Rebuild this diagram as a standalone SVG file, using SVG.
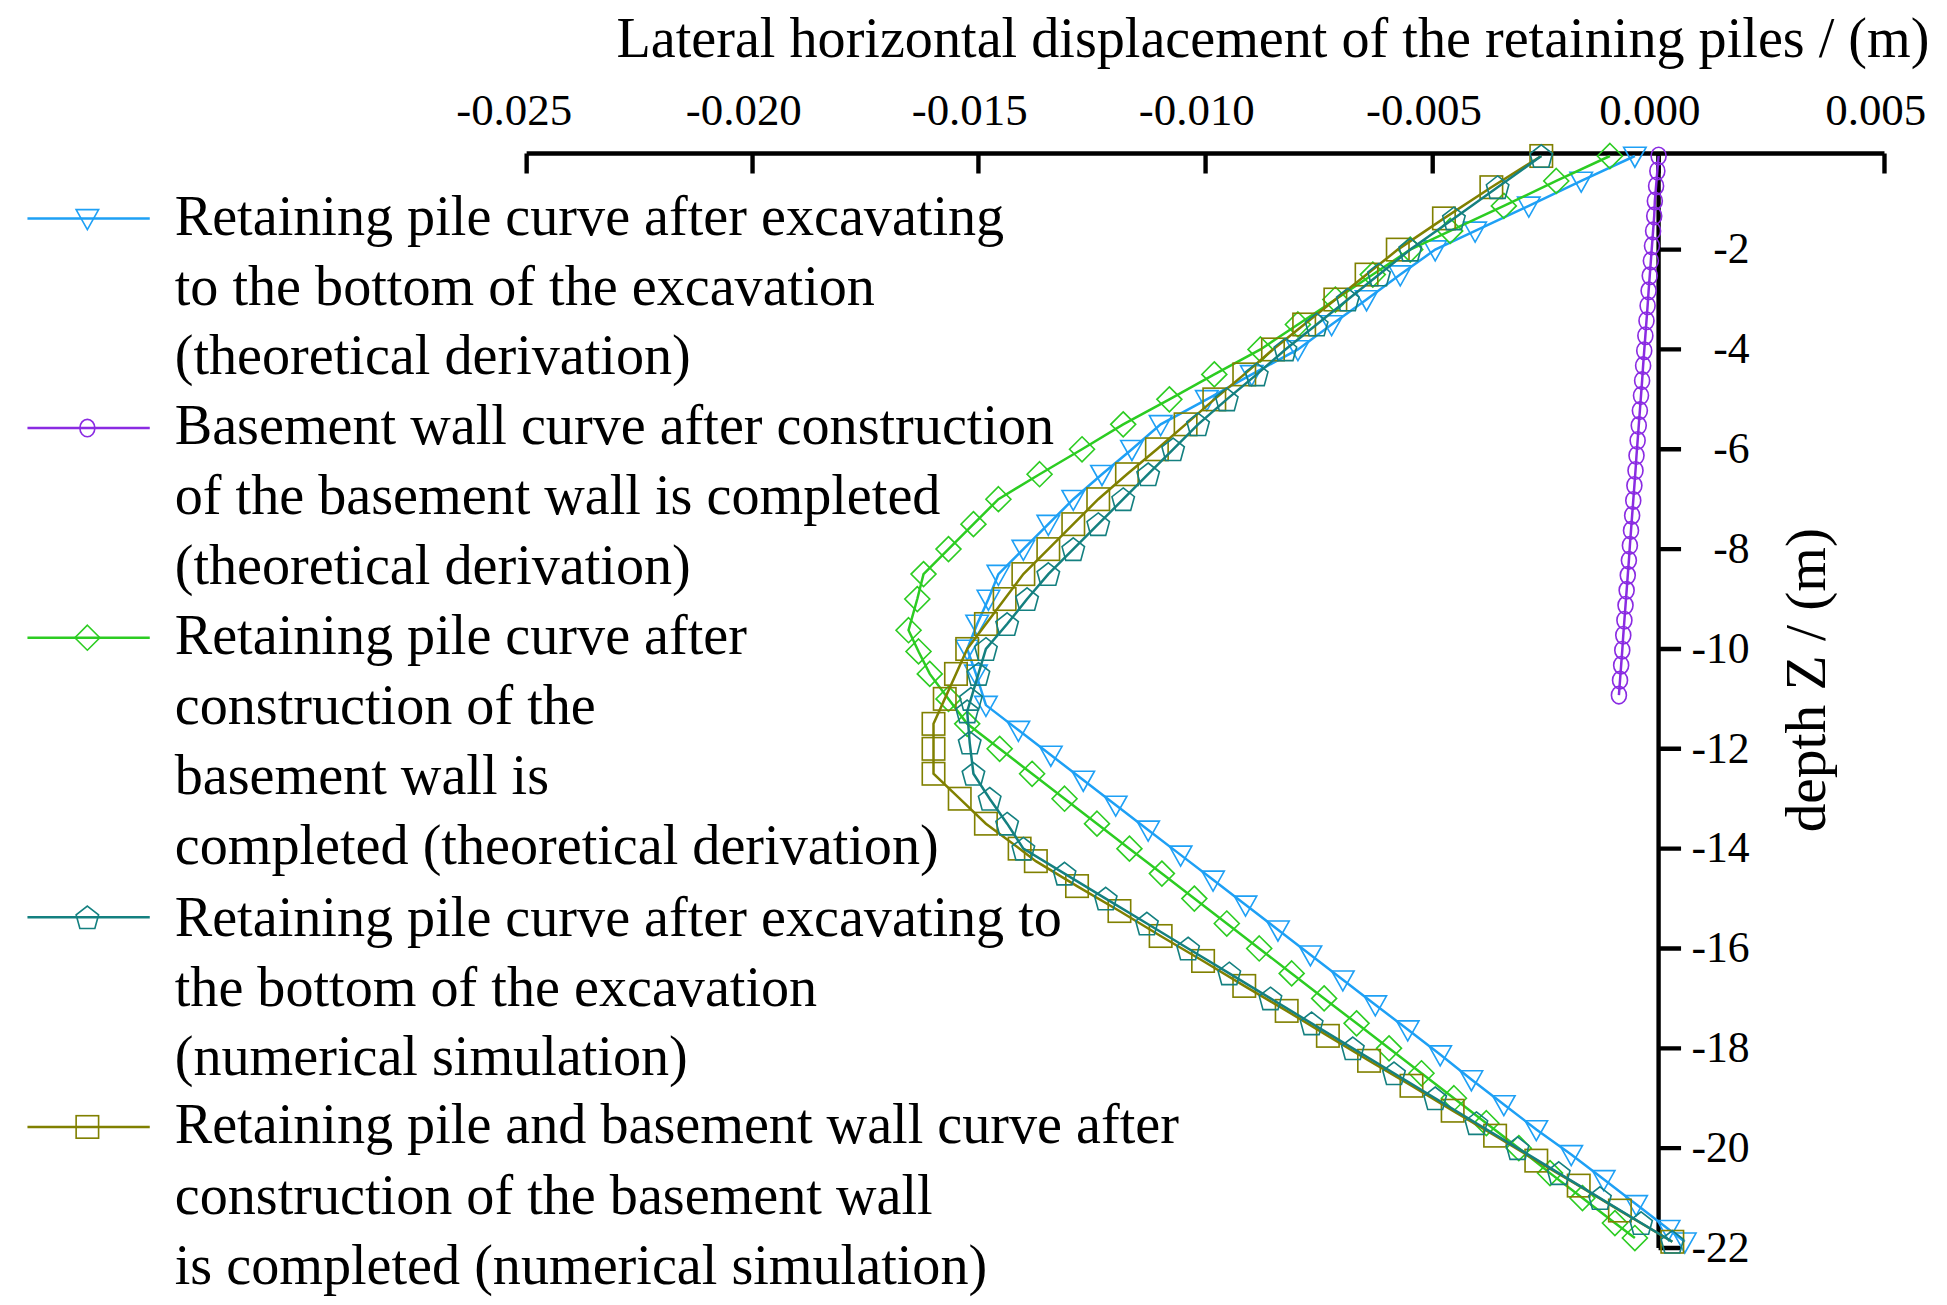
<svg xmlns="http://www.w3.org/2000/svg" width="1947" height="1305" viewBox="0 0 1947 1305">
<style>
text{font-family:"Liberation Serif","Times New Roman",serif;fill:#000}
.t{font-size:36px;text-anchor:middle}
.y{font-size:35px;text-anchor:end}
.lg{font-size:45px}
.ax{stroke:#000;stroke-width:3.5;fill:none}
.c{fill:none;stroke-width:2}
</style>
<defs>
<marker id="mTri" markerUnits="userSpaceOnUse" markerWidth="20" markerHeight="20" refX="10" refY="10" overflow="visible"><path d="M1,3 L19,3 L10,19 Z" fill="none" stroke="#1ea0f5" stroke-width="1.3"/></marker>
<marker id="mCir" markerUnits="userSpaceOnUse" markerWidth="20" markerHeight="20" refX="10" refY="10" overflow="visible"><ellipse cx="10" cy="10" rx="6" ry="7" fill="none" stroke="#8a2be2" stroke-width="1.3"/></marker>
<marker id="mDia" markerUnits="userSpaceOnUse" markerWidth="20" markerHeight="20" refX="10" refY="10" overflow="visible"><path d="M10,0 L20,10 L10,20 L0,10 Z" fill="none" stroke="#2ccc22" stroke-width="1.3"/></marker>
<marker id="mPen" markerUnits="userSpaceOnUse" markerWidth="20" markerHeight="20" refX="10" refY="10" overflow="visible"><path d="M10,1 L19,8 L16,19 L4,19 L1,8 Z" fill="none" stroke="#148080" stroke-width="1.3"/></marker>
<marker id="mSq" markerUnits="userSpaceOnUse" markerWidth="20" markerHeight="20" refX="10" refY="10" overflow="visible"><rect x="1" y="1" width="18" height="18" fill="none" stroke="#808000" stroke-width="1.3"/></marker>
</defs>
<g transform="scale(1.248)">
<g id="axes">
<text x="1020" y="46" style="font-size:45px" text-anchor="middle">Lateral horizontal displacement of the retaining piles / (m)</text>
<path class="ax" d="M422,123 H1510 M422,123 V139 M603,123 V139 M784,123 V139 M966,123 V139 M1148,123 V139 M1329,123 V139 M1510,123 V139"/>
<text class="t" x="412" y="100">-0.025</text><text class="t" x="596" y="100">-0.020</text><text class="t" x="777" y="100">-0.015</text><text class="t" x="959" y="100">-0.010</text><text class="t" x="1141" y="100">-0.005</text><text class="t" x="1322" y="100">0.000</text><text class="t" x="1503" y="100">0.005</text>
<path class="ax" d="M1329,123 V1000 M1329,200 H1347 M1329,280 H1347 M1329,360 H1347 M1329,440 H1347 M1329,520 H1347 M1329,600 H1347 M1329,680 H1347 M1329,760 H1347 M1329,840 H1347 M1329,920 H1347 M1329,1000 H1347"/>
<text class="y" x="1402" y="211">-2</text><text class="y" x="1402" y="291">-4</text><text class="y" x="1402" y="371">-6</text><text class="y" x="1402" y="451">-8</text><text class="y" x="1402" y="531">-10</text><text class="y" x="1402" y="611">-12</text><text class="y" x="1402" y="691">-14</text><text class="y" x="1402" y="771">-16</text><text class="y" x="1402" y="851">-18</text><text class="y" x="1402" y="931">-20</text><text class="y" x="1402" y="1011">-22</text>
<text transform="translate(1462,545) rotate(-90)" style="font-size:46px" text-anchor="middle">depth Z / (m)</text>
</g>
<g id="connectors">
<polyline id="blue" class="c" stroke="#1ea0f5" marker-start="url(#mTri)" marker-mid="url(#mTri)" marker-end="url(#mTri)" points="1310,125 1267,145 1225,165 1182,185 1150,200 1122,220 1095,240 1067,260 1040,280 1003,300 967,320 930,340 907,360 883,380 860,400 840,420 820,440 800,460 792,480 783,500 775,520 782,540 790,565 816,585 842,605 868,625 894,645 920,665 946,685 972,705 998,725 1024,745 1050,765 1076,785 1102,805 1128,825 1154,845 1179,865 1205,885 1231,905 1259,925 1285,945 1311,965 1337,985 1350,995"/>
<polyline id="purple" class="c" stroke="#8a2be2" marker-start="url(#mCir)" marker-mid="url(#mCir)" marker-end="url(#mCir)" points="1329,125 1328,137 1327,149 1326,161 1325.5,173 1324.6,185 1323.7,197 1322.8,209 1321.9,221 1321,233 1320.2,245 1319.3,257 1318.4,269 1317.5,281 1316.6,293 1315.8,305 1314.9,317 1314,329 1313.1,341 1312.2,353 1311.3,365 1310.5,377 1309.6,389 1308.7,401 1307.8,413 1306.9,425 1306,437 1305.2,449 1304.3,461 1303.4,473 1302.5,485 1301.6,497 1300.7,509 1299.9,521 1299,533 1298.1,545 1297.2,557"/>
<polyline id="green" class="c" stroke="#2ccc22" marker-start="url(#mDia)" marker-mid="url(#mDia)" marker-end="url(#mDia)" points="1290,125 1247,145 1205,165 1162,185 1130,200 1100,220 1070,240 1040,260 1010,280 973,300 937,320 900,340 867,360 833,380 800,400 780,420 760,440 740,460 735,480 728,505 736,522 745,540 760,560 775,580 801,600 827,620 853,640 879,660 905,680 931,700 957,720 983,740 1009,760 1035,780 1061,800 1087,820 1113,840 1139,860 1165,880 1191,900 1217,920 1242,940 1268,960 1294,980 1310,992"/>
<polyline id="olive" class="c" stroke="#808000" marker-start="url(#mSq)" marker-mid="url(#mSq)" marker-end="url(#mSq)" points="1235,125 1195,150 1157,175 1120,200 1095,220 1070,240 1045,260 1020,280 997,300 973,320 950,340 927,360 903,380 880,400 860,420 840,440 820,460 805,480 790,500 775,520 766,540 757,560 748,580 748,600 748,620 769,640 790,660 817,680 830,690 863,710 897,730 930,750 964,770 997,790 1031,810 1064,830 1097,850 1131,870 1164,890 1198,910 1231,930 1265,950 1298,970 1340,995"/>
<polyline id="teal" class="c" stroke="#148080" marker-start="url(#mPen)" marker-mid="url(#mPen)" marker-end="url(#mPen)" points="1235,125 1200,150 1165,175 1130,200 1105,220 1080,240 1055,260 1030,280 1007,300 983,320 960,340 940,360 920,380 900,400 880,420 860,440 840,460 823,480 807,500 790,520 784,540 778,560 775,570 777,595 780,620 793,640 807,660 820,680 853,700 886,720 919,740 952,760 985,780 1018,800 1051,820 1084,840 1117,860 1150,880 1183,900 1216,920 1249,940 1282,960 1315,980 1340,995"/>
</g>
<g id="legend">
<polyline class="c" stroke="#1ea0f5" stroke-width="4" marker-mid="url(#mTri)" points="22,175 70,175 120,175"/>
<text class="lg" x="140" y="188">Retaining pile curve after excavating</text>
<text class="lg" x="140" y="244">to the bottom of the excavation</text>
<text class="lg" x="140" y="300">(theoretical derivation)</text>
<polyline class="c" stroke="#8a2be2" stroke-width="4" marker-mid="url(#mCir)" points="22,343 70,343 120,343"/>
<text class="lg" x="140" y="356">Basement wall curve after construction</text>
<text class="lg" x="140" y="412">of the basement wall is completed</text>
<text class="lg" x="140" y="468">(theoretical derivation)</text>
<polyline class="c" stroke="#2ccc22" stroke-width="4" marker-mid="url(#mDia)" points="22,511 70,511 120,511"/>
<text class="lg" x="140" y="524">Retaining pile curve after</text>
<text class="lg" x="140" y="580">construction of the</text>
<text class="lg" x="140" y="636">basement wall is</text>
<text class="lg" x="140" y="692">completed (theoretical derivation)</text>
<polyline class="c" stroke="#148080" stroke-width="4" marker-mid="url(#mPen)" points="22,735 70,735 120,735"/>
<text class="lg" x="140" y="750">Retaining pile curve after excavating to</text>
<text class="lg" x="140" y="806">the bottom of the excavation</text>
<text class="lg" x="140" y="861">(numerical simulation)</text>
<polyline class="c" stroke="#808000" stroke-width="4" marker-mid="url(#mSq)" points="22,903 70,903 120,903"/>
<text class="lg" x="140" y="916">Retaining pile and basement wall curve after</text>
<text class="lg" x="140" y="973">construction of the basement wall</text>
<text class="lg" x="140" y="1029">is completed (numerical simulation)</text>
</g>
</g>
</svg>
